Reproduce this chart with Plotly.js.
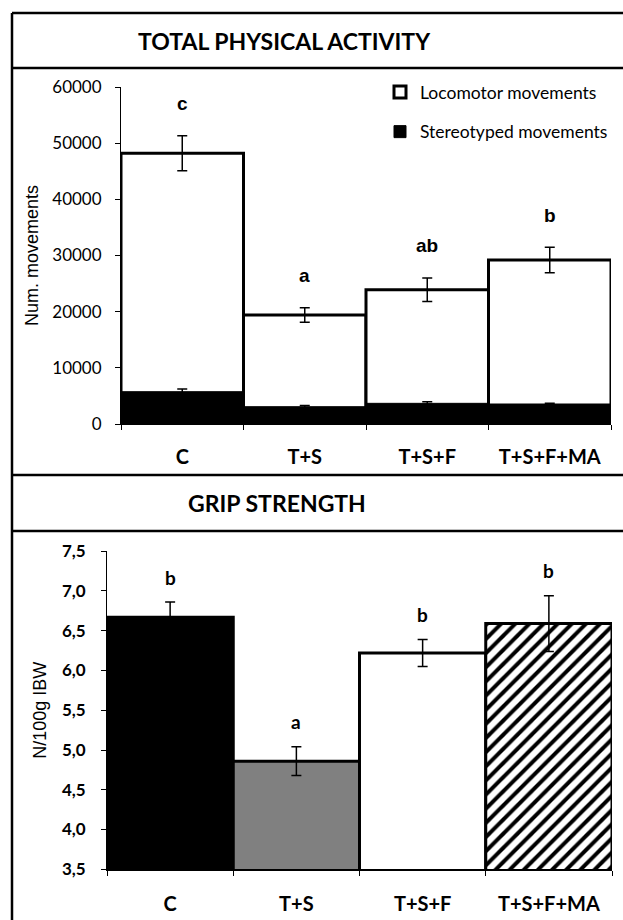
<!DOCTYPE html>
<html>
<head>
<meta charset="utf-8">
<script src="https://cdn.plot.ly/plotly-3.0.1.min.js"></script>
<style>html,body{margin:0;padding:0;background:#fff}#chart{width:623px;height:920px}</style>
</head>
<body>
<div id="chart"></div>
<script>
// ---- data ----
var groups = ['C', 'T+S', 'T+S+F', 'T+S+F+MA'];
var locomotor = [48200, 19400, 23900, 29200];
var locomotorErr = [3100, 1300, 2100, 2250];
var stereotyped = [5750, 3080, 3680, 3560];
var stereotypedErr = [480, 200, 300, 150];
var activityLetters = ['c', 'a', 'ab', 'b'];
var grip = [6.67, 4.86, 6.22, 6.59];
var gripErr = [0.19, 0.18, 0.17, 0.35];
var gripLetters = ['b', 'a', 'b', 'b'];
var gripColors = ['#000000', '#808080', '#ffffff', '#ffffff'];
var gripHatched = [false, false, false, true];
var panelTitles = ['TOTAL PHYSICAL ACTIVITY', 'GRIP STRENGTH'];
var legendNames = ['Locomotor movements', 'Stereotyped movements'];

var W = 623, H = 920;
function px(x) { return x / W; }
function py(y) { return 1 - y / H; }

var LATO = 'Lato, "Open Sans", sans-serif';
var ARIAL = '"Liberation Sans", Arial, sans-serif';

function pick(arr, want) { return arr.filter(function (v, i) { return gripHatched[i] === want; }); }

var traces = [
  {
    type: 'bar', x: groups, y: locomotor, name: legendNames[0],
    xaxis: 'x', yaxis: 'y', legendgroup: 'g1',
    marker: {color: '#ffffff', line: {color: '#000000', width: 3}},
    error_y: {type: 'data', array: locomotorErr, color: '#000000', thickness: 1.5, width: 5},
    hoverinfo: 'skip'
  },
  {
    type: 'bar', x: groups, y: stereotyped, name: legendNames[1],
    xaxis: 'x', yaxis: 'y', legendgroup: 'g2',
    marker: {color: '#000000', line: {color: '#000000', width: 1}},
    error_y: {type: 'data', array: stereotypedErr, color: '#000000', thickness: 1.5, width: 5},
    hoverinfo: 'skip'
  },
  {
    type: 'bar', x: pick(groups, false), y: pick(grip, false), showlegend: false,
    xaxis: 'x2', yaxis: 'y2',
    marker: {color: pick(gripColors, false), line: {color: '#000000', width: 3}},
    error_y: {type: 'data', array: pick(gripErr, false), color: '#000000', thickness: 1.5, width: 5},
    hoverinfo: 'skip'
  },
  {
    type: 'bar', x: pick(groups, true), y: pick(grip, true), showlegend: false,
    xaxis: 'x2', yaxis: 'y2',
    marker: {
      color: '#ffffff',
      line: {color: '#000000', width: 3},
      pattern: {shape: '/', fgcolor: '#000000', bgcolor: '#ffffff', fillmode: 'overlay', fgopacity: 1, size: 10, solidity: 0.4}
    },
    error_y: {type: 'data', array: pick(gripErr, true), color: '#000000', thickness: 1.5, width: 5},
    hoverinfo: 'skip'
  }
];

var annotations = [];
groups.forEach(function (g, i) {
  annotations.push({
    xref: 'x', yref: 'y', x: g, y: locomotor[i] + locomotorErr[i],
    text: '<b>' + activityLetters[i] + '</b>', showarrow: false, yanchor: 'middle', yshift: 32,
    font: {family: ARIAL, size: 19, color: '#000'}
  });
  annotations.push({
    xref: 'x2', yref: 'y2', x: g, y: grip[i] + gripErr[i],
    text: '<b>' + gripLetters[i] + '</b>', showarrow: false, yanchor: 'middle', yshift: 25,
    font: {family: LATO, size: 19, color: '#000'}
  });
});

annotations.push({
  xref: 'paper', yref: 'paper', x: px(284), y: py(41.5), xanchor: 'center', yanchor: 'middle',
  text: '<b>' + panelTitles[0] + '</b>', showarrow: false,
  font: {family: LATO, size: 23, color: '#000'}
});
annotations.push({
  xref: 'paper', yref: 'paper', x: px(277), y: py(503), xanchor: 'center', yanchor: 'middle',
  text: '<b>' + panelTitles[1] + '</b>', showarrow: false,
  font: {family: LATO, size: 23, color: '#000'}
});

var frameLine = {color: '#000000', width: 2.5};
var shapes = [
  {type: 'line', xref: 'paper', yref: 'paper', x0: px(12), x1: px(12), y0: py(13), y1: -0.02, line: frameLine},
  {type: 'line', xref: 'paper', yref: 'paper', x0: px(12), x1: 1.02, y0: py(13), y1: py(13), line: frameLine},
  {type: 'line', xref: 'paper', yref: 'paper', x0: px(12), x1: 1.02, y0: py(68), y1: py(68), line: frameLine},
  {type: 'line', xref: 'paper', yref: 'paper', x0: px(12), x1: 1.02, y0: py(475), y1: py(475), line: frameLine},
  {type: 'line', xref: 'paper', yref: 'paper', x0: px(12), x1: 1.02, y0: py(531), y1: py(531), line: frameLine}
];

var layout = {
  width: W, height: H,
  margin: {l: 0, r: 0, t: 0, b: 0},
  paper_bgcolor: '#ffffff', plot_bgcolor: 'rgba(0,0,0,0)',
  barmode: 'overlay', bargap: 0,
  separators: ',.',
  showlegend: true,
  legend: {
    x: px(380), y: py(74), xanchor: 'left', yanchor: 'top',
    traceorder: 'grouped', tracegroupgap: 14,
    font: {family: LATO, size: 17.5, color: '#000'},
    bgcolor: 'rgba(0,0,0,0)'
  },
  xaxis: {
    domain: [px(121), px(611)], anchor: 'y',
    type: 'category', showgrid: false, zeroline: false,
    showline: true, linecolor: '#000', linewidth: 1,
    ticks: 'outside', tickson: 'boundaries', ticklen: 5, tickcolor: '#000',
    ticklabelstandoff: 15,
    tickfont: {family: LATO, size: 20, color: '#000', weight: 'bold'}
  },
  yaxis: {
    domain: [py(424), py(87)], anchor: 'x', range: [0, 60000],
    tickvals: [0, 10000, 20000, 30000, 40000, 50000, 60000], tickformat: 'd',
    showgrid: false, zeroline: false,
    showline: true, linecolor: '#000', linewidth: 1,
    ticks: 'outside', ticklen: 5, tickcolor: '#000',
    ticklabelstandoff: 10,
    tickfont: {family: LATO, size: 17, color: '#000'},
    title: {text: 'Num. movements', standoff: 8, font: {family: ARIAL, size: 18, color: '#000'}}
  },
  xaxis2: {
    domain: [px(107), px(612)], anchor: 'y2',
    type: 'category', showgrid: false, zeroline: false,
    showline: true, linecolor: '#000', linewidth: 2,
    ticks: 'outside', tickson: 'boundaries', ticklen: 5, tickcolor: '#000',
    ticklabelstandoff: 16,
    tickfont: {family: LATO, size: 20, color: '#000', weight: 'bold'}
  },
  yaxis2: {
    domain: [py(869.3), py(551.2)], anchor: 'x2', range: [3.5, 7.5],
    tickvals: [3.5, 4, 4.5, 5, 5.5, 6, 6.5, 7, 7.5], tickformat: '.1f',
    showgrid: false, zeroline: false,
    showline: true, linecolor: '#000', linewidth: 1,
    ticks: 'outside', ticklen: 5, tickcolor: '#000',
    ticklabelstandoff: 12,
    tickfont: {family: LATO, size: 17, color: '#000', weight: 'bold'},
    title: {text: 'N/100g IBW', standoff: 10, font: {family: ARIAL, size: 18, color: '#000'}}
  },
  annotations: annotations,
  shapes: shapes
};

Plotly.newPlot('chart', traces, layout, {displayModeBar: false, staticPlot: true});
</script>
</body>
</html>
